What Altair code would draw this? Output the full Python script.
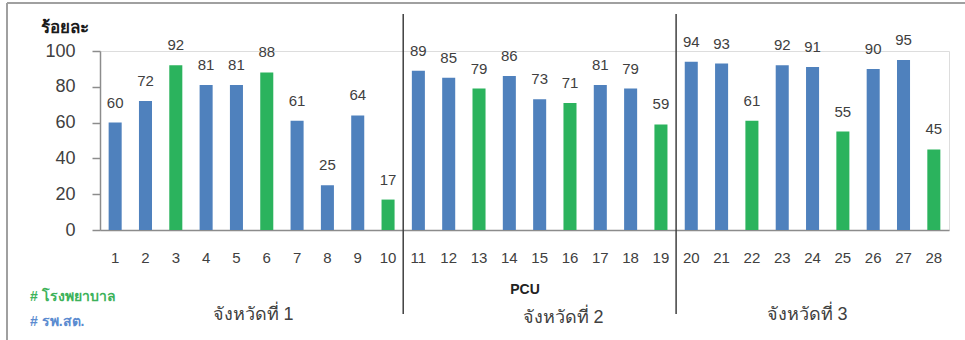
import altair as alt
import pandas as pd

units = [str(i) for i in range(1, 29)]
values = [60, 72, 92, 81, 81, 88, 61, 25, 64, 17,
          89, 85, 79, 86, 73, 71, 81, 79, 59,
          94, 93, 61, 92, 91, 55, 90, 95, 45]
H = "โรงพยาบาล"
S = "รพ.สต."
types = [S, S, H, S, S, H, S, S, S, H,
         S, S, H, S, S, H, S, S, H,
         S, S, H, S, S, H, S, S, H]
provinces = ["จังหวัดที่ 1", "จังหวัดที่ 2", "จังหวัดที่ 3"]
boundary_units = ["10", "19"]   # separators after these units
y_ticks = [0, 20, 40, 60, 80, 100]

BLUE = "#4F81BD"
GREEN = "#2BB35D"
FONT = "Liberation Sans"
TXT = "#404040"
PI = 0.57
W = 849
STEP = W / len(units)

df = pd.DataFrame({"unit": units, "value": values, "type": types})

x_scale = alt.Scale(domain=units, paddingInner=PI, paddingOuter=PI / 2)
x_axis = alt.Axis(title=None, labelAngle=0, ticks=False, labelPadding=20,
                  labelFontSize=15, labelColor=TXT, labelFont=FONT,
                  domainColor="#8c8c8c", domainWidth=1.5)
y_scale = alt.Scale(domain=[0, 100], nice=False)
y_axis = alt.Axis(values=y_ticks, grid=False, tickSize=8, tickColor="#8c8c8c",
                  tickWidth=1.5, domainColor="#8c8c8c", domainWidth=1.5,
                  labelFontSize=18, labelColor=TXT, labelFont=FONT,
                  labelOverlap=False, labelFlush=False, labelBound=False,
                  labelPadding=17, title="ร้อยละ", titleAngle=0,
                  titleX=-36, titleY=-24, titleAlign="center",
                  titleBaseline="middle", titleFontSize=17,
                  titleFontWeight="bold", titleColor="#1a1a1a")

base = alt.Chart(df)
bars = base.mark_bar().encode(
    x=alt.X("unit:N", scale=x_scale, axis=x_axis),
    y=alt.Y("value:Q", scale=y_scale, axis=y_axis),
    color=alt.Color("type:N", scale=alt.Scale(domain=[H, S], range=[GREEN, BLUE]), legend=None),
)
labels = base.mark_text(baseline="alphabetic", dy=-15, fontSize=15, font=FONT, color=TXT).encode(
    x=alt.X("unit:N", scale=x_scale, axis=x_axis),
    y=alt.Y("value:Q", scale=y_scale, axis=y_axis),
    text="value:Q",
)

sep = alt.Chart(pd.DataFrame({"unit": boundary_units})).mark_rule(
    color="#404040", strokeWidth=1.5, xOffset=STEP * PI / 2
).encode(
    x=alt.X("unit:N", scale=x_scale, axis=x_axis, bandPosition=1),
    y=alt.value(-37), y2=alt.value(263),
)

prov1 = alt.Chart(pd.DataFrame({"p": [provinces[0]]})).mark_text(fontSize=18, color=TXT).encode(
    text="p:N", x=alt.value(153), y=alt.value(264))
prov2 = alt.Chart(pd.DataFrame({"p": [provinces[1]]})).mark_text(fontSize=18, color=TXT).encode(
    text="p:N", x=alt.value(463), y=alt.value(267))
prov3 = alt.Chart(pd.DataFrame({"p": [provinces[2]]})).mark_text(fontSize=18, color=TXT).encode(
    text="p:N", x=alt.value(707), y=alt.value(264))

pcu = alt.Chart(pd.DataFrame({"t": ["PCU"]})).mark_text(fontSize=14, fontWeight="bold", color="#222222", font=FONT).encode(
    text="t:N", x=alt.value(425), y=alt.value(239))

leg1 = alt.Chart(pd.DataFrame({"t": ["# " + H]})).mark_text(fontSize=14, fontWeight="bold", color="#3DB25A", align="left").encode(
    text="t:N", x=alt.value(-70), y=alt.value(246))
leg2 = alt.Chart(pd.DataFrame({"t": ["# " + S]})).mark_text(fontSize=14, fontWeight="bold", color="#5B8BD0", align="left").encode(
    text="t:N", x=alt.value(-70), y=alt.value(271))

one = pd.DataFrame({"a": [0]})
frame_top = alt.Chart(one).mark_rule(color="#a0a0a0", strokeWidth=2).encode(
    x=alt.value(-93), x2=alt.value(865), y=alt.value(-48))
frame_left = alt.Chart(one).mark_rule(color="#a0a0a0", strokeWidth=2).encode(
    x=alt.value(-93), y=alt.value(-48), y2=alt.value(289))

chart = alt.layer(
    bars, labels, sep, prov1, prov2, prov3, pcu, leg1, leg2, frame_top, frame_left
).properties(
    width=W, height=179, autosize="none",
    padding={"left": 100, "top": 51, "right": 16, "bottom": 110},
).configure_view(strokeWidth=0).configure(background="white")

chart.save("out.html", embed_options={"renderer": "svg", "actions": False})
